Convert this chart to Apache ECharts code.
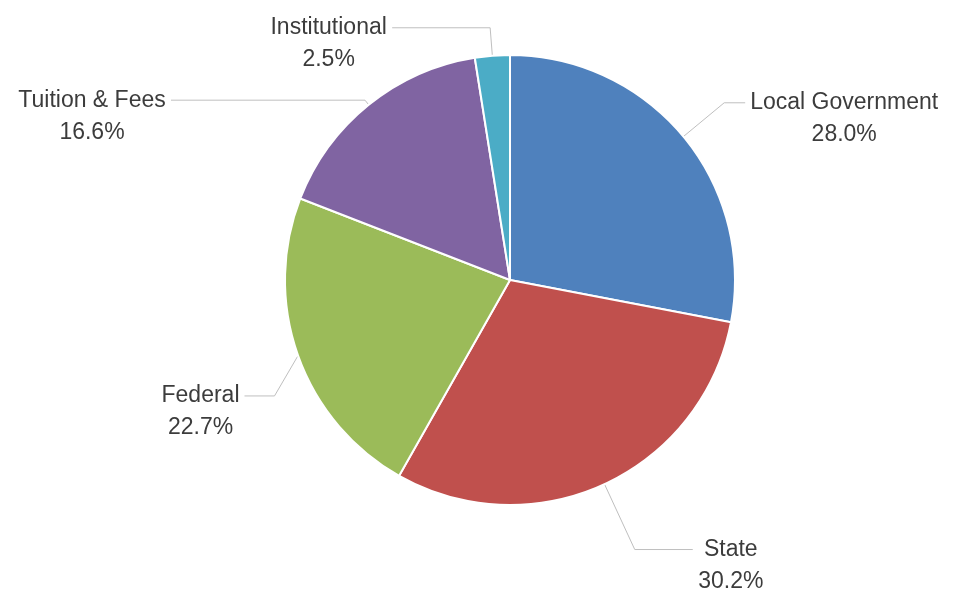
<!DOCTYPE html>
<html>
<head>
<meta charset="utf-8">
<script src="https://cdn.jsdelivr.net/npm/echarts@6/dist/echarts.min.js"></script>
<style>
  html, body { margin: 0; padding: 0; background: #ffffff; }
  #chart { width: 957px; height: 594px; }
</style>
</head>
<body>
<div id="chart"></div>
<script>
// Revenue sources (percent of total)
const categories = ['Local Government', 'State', 'Federal', 'Tuition & Fees', 'Institutional'];
const shares = [28.0, 30.2, 22.7, 16.6, 2.5];
const colors = ['#4F81BD', '#C0504D', '#9BBB59', '#8064A2', '#4BACC6'];

const FONT_FAMILY = '"Liberation Sans", Arial, sans-serif';
const FONT_SIZE = 23;
const LINE_H = 32;
const TEXT_COLOR = '#3c3c3c';

// leader line shape per slice: radial part, horizontal part, extra vertical drop
const leaders = [
  { len: 53, len2: 21, drop: 0 },
  { len: 72, len2: 58, drop: 0 },
  { len: 25, len2: 30, drop: 32 },
  { len: 6, len2: 194, drop: 0 },
  { len: 28, len2: 98, drop: 0 }
];

const measureCtx = document.createElement('canvas').getContext('2d');
measureCtx.font = FONT_SIZE + 'px ' + FONT_FAMILY;
function textWidth(s) { return Math.ceil(measureCtx.measureText(s).width); }
function pctText(v) { return v.toFixed(1) + '%'; }

const pieData = categories.map((name, i) => {
  const w = Math.max(textWidth(name), textWidth(pctText(shares[i]))) + 2;
  return {
    name: name,
    value: shares[i],
    itemStyle: { color: colors[i] },
    label: {
      rich: {
        t: {
          width: w,
          align: 'center',
          fontSize: FONT_SIZE,
          fontFamily: FONT_FAMILY,
          color: TEXT_COLOR,
          lineHeight: LINE_H
        }
      }
    },
    labelLine: { length: leaders[i].len, length2: leaders[i].len2 }
  };
});

const chart = echarts.init(document.getElementById('chart'), null, { renderer: 'canvas' });
chart.setOption({
  animation: false,
  backgroundColor: '#ffffff',
  series: [{
    type: 'pie',
    center: [510, 280],
    radius: 225,
    startAngle: 90,
    clockwise: true,
    avoidLabelOverlap: false,
    emphasis: { disabled: true },
    itemStyle: { borderColor: '#ffffff', borderWidth: 2 },
    label: {
      show: true,
      position: 'outside',
      padding: [LINE_H, 0, 0, 0],
      distanceToLabelLine: 4,
      formatter: p => '{t|' + p.name + '}\n{t|' + pctText(p.value) + '}'
    },
    labelLine: {
      show: true,
      smooth: false,
      lineStyle: { color: '#BFBFBF', width: 1 }
    },
    labelLayout: function (params) {
      const d = leaders[params.dataIndex].drop;
      const pts = params.labelLinePoints;
      if (!d || !pts) return {};
      return {
        dy: d,
        labelLinePoints: [pts[0], [pts[1][0], pts[1][1] + d], [pts[2][0], pts[2][1] + d]]
      };
    },
    data: pieData
  }]
});
</script>
</body>
</html>
